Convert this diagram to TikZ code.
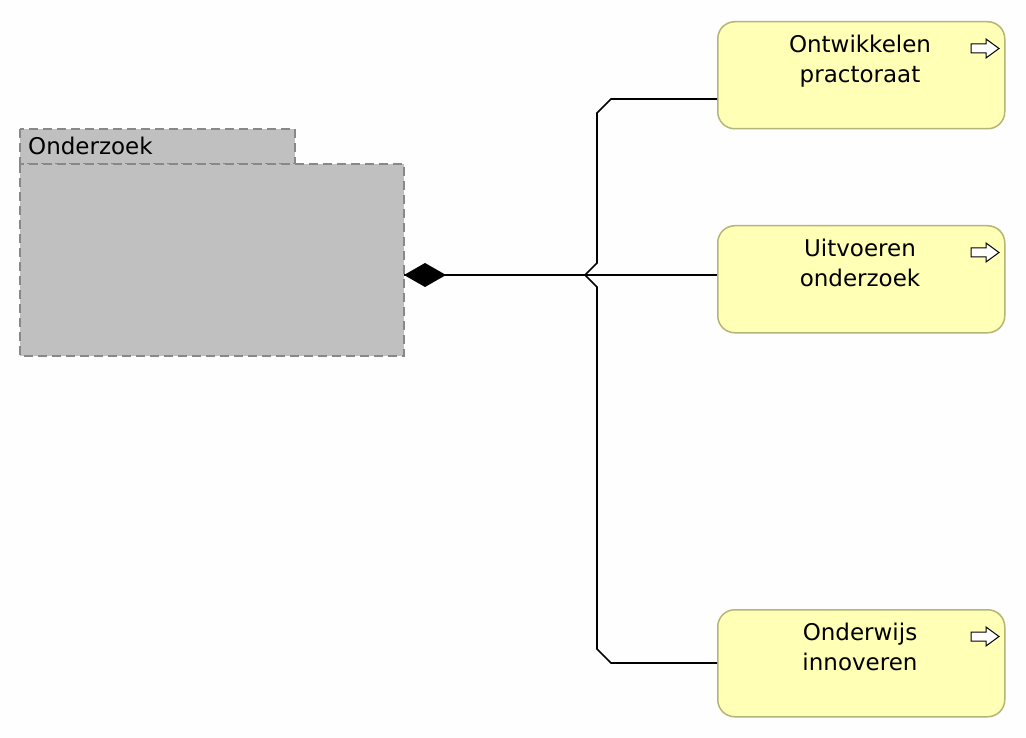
\documentclass[tikz,border=0pt]{standalone}
\usepackage{fontspec}
\setmainfont{DejaVu Sans}
\usetikzlibrary{arrows.meta}
\definecolor{appfill}{RGB}{255,255,181}
\definecolor{appline}{RGB}{181,181,120}
\definecolor{pkgfill}{RGB}{192,192,192}
\definecolor{pkgline}{RGB}{136,136,136}
\tikzset{
  fn/.style={draw=appline, fill=appfill, line width=1.5pt, rounded corners=17pt,
    minimum width=287pt, minimum height=107pt, inner sep=0pt, anchor=north west},
  fntext/.style={align=center, anchor=north, font=\fontsize{23}{30}\selectfont, inner sep=0pt},
  pkg/.style={draw=pkgline, fill=pkgfill, line width=1.5pt, dash pattern=on 9pt off 5pt},
  conn/.style={line width=1.6pt, black, rounded corners=0pt},
  fnicon/.style={draw=black, fill=white, line width=1pt, line join=miter}
}
\begin{document}
\begin{tikzpicture}[x=1pt,y=-1pt]
\useasboundingbox (0,0) rectangle (1026,738);
\fill[white!99.5!black] (0,0) rectangle (1026,738);
% package
\draw[pkg] (20,129) rectangle (295,164);
\draw[pkg] (20,164) rectangle (404,356);
\node[anchor=base west, inner sep=0pt, font=\fontsize{23}{28}\selectfont] (pkglabel) at (28,155) {Onderzoek};
\coordinate (src) at (404,275);
% functions
\node[fn] (f1) at (717,21) {};
\node[fn] (f2) at (717,225) {};
\node[fn] (f3) at (717,609) {};
\node[fntext] (t1) at (860,35) {Ontwikkelen\\practoraat};
\node[fntext] (t2) at (860,239) {Uitvoeren\\onderzoek};
\node[fntext] (t3) at (860,623) {Onderwijs\\innoveren};
% icons
\foreach \y in {21,225,609}{
  \draw[fnicon] (971,\y+23) -- (986,\y+23) -- (986,\y+18) -- (999,\y+27.5) -- (986,\y+37) -- (986,\y+32) -- (971,\y+32) -- cycle;
}
% connectors
\draw[conn, {Diamond[length=42pt,width=24pt,line join=miter]}-] (src) -- (f2.west |- src);
\draw[conn] (src) -- (585,275) -- (597,263) -- (597,113) -- (611,99) -- (f1.west |- 0,99);
\draw[conn] (src) -- (585,275) -- (597,287) -- (597,649) -- (611,663) -- (f3.west |- 0,663);
\end{tikzpicture}
\end{document}
